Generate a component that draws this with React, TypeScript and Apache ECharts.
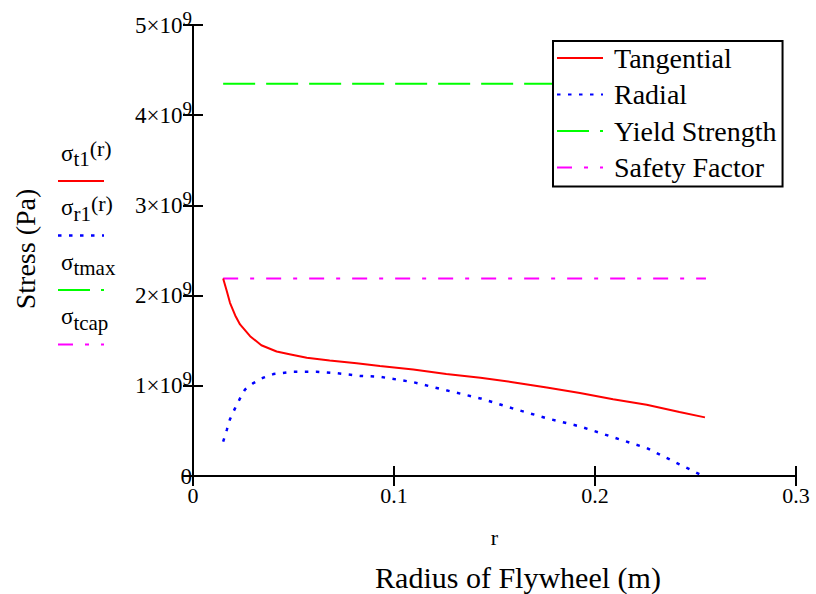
import React, { useEffect, useRef } from "react";
import * as echarts from "echarts";

// Radius (m) and stress (Pa)
const rTangential = [0.015, 0.0168, 0.0184, 0.021, 0.0234, 0.0284, 0.034, 0.0416, 0.048, 0.0566, 0.068, 0.0814, 0.093, 0.1096, 0.126, 0.143, 0.159, 0.176, 0.1925, 0.209, 0.2257, 0.242, 0.2547];
const tangential = [2.19e9, 2.05e9, 1.92e9, 1.78e9, 1.68e9, 1.55e9, 1.45e9, 1.38e9, 1.35e9, 1.31e9, 1.28e9, 1.25e9, 1.22e9, 1.18e9, 1.13e9, 1.09e9, 1.04e9, 0.98e9, 0.92e9, 0.85e9, 0.79e9, 0.71e9, 0.65e9];
const rRadial = [0.015, 0.0168, 0.0184, 0.0209, 0.0234, 0.0259, 0.03, 0.035, 0.04, 0.05, 0.0615, 0.0714, 0.083, 0.093, 0.1096, 0.126, 0.143, 0.159, 0.176, 0.1925, 0.209, 0.2257, 0.242, 0.252];
const radial = [0.38e9, 0.51e9, 0.63e9, 0.75e9, 0.86e9, 0.96e9, 1.03e9, 1.09e9, 1.13e9, 1.156e9, 1.156e9, 1.14e9, 1.11e9, 1.1e9, 1.04e9, 0.95e9, 0.86e9, 0.75e9, 0.64e9, 0.55e9, 0.43e9, 0.31e9, 0.13e9, 0.02e9];
const rYield = [0.015, 0.255];
const yieldStrength = [4.35e9, 4.35e9];
const rSafety = [0.015, 0.2552];
const safetyFactor = [2.19e9, 2.19e9];

const seriesNames = ["Tangential", "Radial", "Yield Strength", "Safety Factor"];
const xTickLabels = ["0", "0.1", "0.2", "0.3"];
const yTickMantissas = ["0", "1", "2", "3", "4", "5"];
const yExponent = "9";

const FONT = "Liberation Serif";

const zip = (xs: number[], ys: number[]) => xs.map((x, i) => [x, ys[i]]);

export default function App() {
  const ref = useRef<HTMLDivElement>(null);
  useEffect(() => {
    if (!ref.current) return;
    const chart = echarts.init(ref.current, null, { renderer: "svg" });

    const styles = [
      { color: "#ff0000", width: 2, type: "solid" as any },
      { color: "#0000ff", width: 2.5, type: [3.5, 7.5] },
      { color: "#00ff00", width: 2, type: [32, 11] },
      { color: "#ff00ff", width: 2, type: [15, 12, 4, 12] },
    ];
    const datas = [
      zip(rTangential, tangential),
      zip(rRadial, radial),
      zip(rYield, yieldStrength),
      zip(rSafety, safetyFactor),
    ];

    const axisLine = { show: true, lineStyle: { color: "#000", width: 2 } };
    const axisTick = { show: true, inside: true, length: 10, lineStyle: { color: "#000", width: 2 } };

    const leftLabels = [
      { main: "σ", sub: "t1", tail: "(r)" },
      { main: "σ", sub: "r1", tail: "(r)" },
      { main: "σ", sub: "tmax", tail: "" },
      { main: "σ", sub: "tcap", tail: "" },
    ];
    const leftGraphics: any[] = [];
    leftLabels.forEach((l, i) => {
      const ty = 158 + i * 54.5;
      const ly = 181 + i * 54.5;
      leftGraphics.push({
        type: "text",
        x: 61,
        y: ty,
        style: {
          text: `{m|${l.main}}{b|${l.sub}}` + (l.tail ? `{p|${l.tail}}` : ""),
          verticalAlign: "middle",
          rich: {
            m: { fontFamily: FONT, fontSize: 23, lineHeight: 23, verticalAlign: "bottom", padding: [0, 0, 5, 0], fill: "#000" },
            b: { fontFamily: FONT, fontSize: 21, lineHeight: 21, verticalAlign: "bottom", padding: [0, 0, 0, 0], fill: "#000" },
            p: { fontFamily: FONT, fontSize: 22, lineHeight: 22, verticalAlign: "bottom", padding: [0, 0, 10, 0], fill: "#000" },
          },
        },
      });
      leftGraphics.push({
        type: "line",
        shape: { x1: 58, y1: ly, x2: 104, y2: ly },
        style: {
          stroke: styles[i].color,
          lineWidth: styles[i].width,
          lineDash: Array.isArray(styles[i].type) ? styles[i].type : null,
        },
      });
    });

    chart.setOption({
      animation: false,
      backgroundColor: "#fff",
      textStyle: { fontFamily: FONT },
      grid: { left: 193, right: 20, top: 25, bottom: 118, containLabel: false, outerBoundsMode: "none" },
      legend: {
        left: 553,
        top: 41,
        orient: "vertical",
        data: seriesNames,
        itemWidth: 46,
        itemHeight: 14,
        itemGap: 8.5,
        padding: [3, 6, 5, 3],
        borderColor: "#000",
        borderWidth: 2,
        backgroundColor: "#fff",
        selectedMode: false,
        itemStyle: { opacity: 0, borderWidth: 0 },
        textStyle: { fontFamily: FONT, fontSize: 28, color: "#000", padding: [0, 0, 0, 6] },
      },
      xAxis: [
        {
          type: "value",
          position: "bottom",
          min: 0,
          max: 0.3,
          interval: 0.1,
          axisLine,
          axisTick,
          splitLine: { show: false },
          axisLabel: {
            fontFamily: FONT,
            fontSize: 22,
            color: "#000",
            margin: 8,
            formatter: (v: number) => xTickLabels[Math.round(v * 10)] ?? String(v),
          },
          name: "r",
          nameLocation: "middle",
          nameGap: 50,
          nameTextStyle: { fontFamily: FONT, fontSize: 22, color: "#000" },
        },
        {
          type: "value",
          position: "top",
          min: 0,
          max: 0.3,
          interval: 0.1,
          axisLine,
          axisTick,
          splitLine: { show: false },
          axisLabel: { show: false },
        },
      ],
      yAxis: [
        {
          type: "value",
          position: "left",
          min: 0,
          max: 5e9,
          interval: 1e9,
          axisLine,
          axisTick,
          splitLine: { show: false },
          axisLabel: {
            margin: 1,
            formatter: (v: number) => {
              const m = yTickMantissas[Math.round(v / 1e9)];
              return m === "0" ? "{a|0}" : `{a|${m}×10}{s|${yExponent}}`;
            },
            rich: {
              a: { fontFamily: FONT, fontSize: 23, color: "#000", lineHeight: 23, verticalAlign: "bottom" },
              s: { fontFamily: FONT, fontSize: 19, color: "#000", lineHeight: 19, verticalAlign: "bottom", padding: [0, 0, 9, 0] },
            },
          },
        },
        {
          type: "value",
          position: "right",
          min: 0,
          max: 5e9,
          interval: 1e9,
          axisLine,
          axisTick,
          splitLine: { show: false },
          axisLabel: { show: false },
        },
      ],
      series: seriesNames.map((name, i) => ({
        name,
        type: "line",
        xAxisIndex: 0,
        yAxisIndex: 0,
        symbol: "none",
        showSymbol: false,
        data: datas[i],
        lineStyle: styles[i],
        itemStyle: { color: styles[i].color },
        z: i === 0 ? 5 : 3,
      })),
      graphic: [
        {
          type: "text",
          x: 25,
          y: 249,
          rotation: Math.PI / 2,
          style: {
            text: "Stress (Pa)",
            fontFamily: FONT,
            fontSize: 28,
            fill: "#000",
            align: "center",
            verticalAlign: "middle",
          },
        },
        {
          type: "text",
          x: 518,
          y: 577,
          style: {
            text: "Radius of Flywheel (m)",
            fontFamily: FONT,
            fontSize: 30,
            fill: "#000",
            align: "center",
            verticalAlign: "middle",
          },
        },
        ...leftGraphics,
      ],
    });
    return () => chart.dispose();
  }, []);
  return <div ref={ref} style={{ width: 816, height: 594, position: "absolute", left: 0, top: 0 }} />;
}
